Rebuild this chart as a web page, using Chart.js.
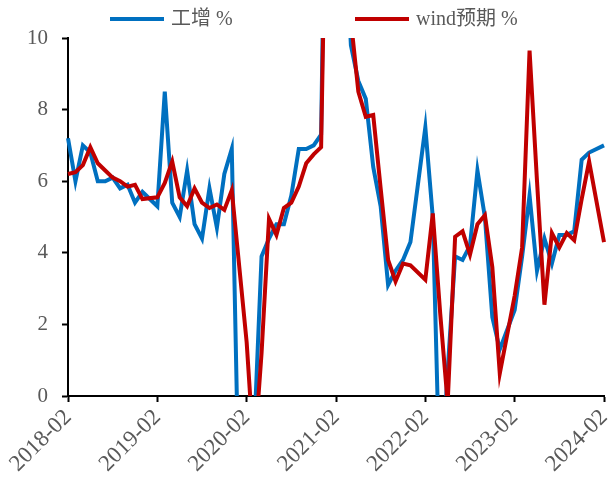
<!DOCTYPE html>
<html>
<head>
<meta charset="utf-8">
<script src="https://cdn.jsdelivr.net/npm/chart.js@4.4.0/dist/chart.umd.min.js"></script>
<style>
    html, body { margin: 0; padding: 0; background: #fff; }
    #wrap { width: 611px; height: 483px; position: relative; }
</style>
</head>
<body>
<div id="wrap"><canvas id="lineChart"></canvas></div>
<script>
// 数据 (1月为空, 1-2月合并记在2月)
var seriesNames = ['工增 %', 'wind预期 %'];

var ipActual = [
    7.2, 6.0, 7.0, 6.8, 6.0, 6.0, 6.1, 5.8, 5.9, 5.4, 5.7,               // 2018-02 ~ 2018-12
    null, 5.3, 8.5, 5.4, 5.0, 6.3, 4.8, 4.4, 5.8, 4.7, 6.2, 6.9,         // 2019
    null, -13.5, -1.1, 3.9, 4.4, 4.8, 4.8, 5.6, 6.9, 6.9, 7.0, 7.3,      // 2020
    null, 35.1, 14.1, 9.8, 8.8, 8.3, 6.4, 5.3, 3.1, 3.5, 3.8, 4.3,       // 2021
    null, 7.5, 5.0, -2.9, 0.7, 3.9, 3.8, 4.2, 6.3, 5.0, 2.2, 1.3,        // 2022
    null, 2.4, 3.9, 5.6, 3.5, 4.4, 3.7, 4.5, 4.5, 4.6, 6.6, 6.8,         // 2023
    null, 7.0                                                            // 2024
];

var windForecast = [
    6.2, 6.25, 6.45, 6.95, 6.5, 6.3, 6.1, 6.0, 5.85, 5.9, 5.5,
    null, 5.55, 5.95, 6.55, 5.55, 5.3, 5.8, 5.4, 5.25, 5.35, 5.2, 5.75,
    null, 1.5, -1.7, 1.2, 4.95, 4.5, 5.25, 5.4, 5.85, 6.5, 6.75, 6.95,
    null, 30.0, 17.5, 10.5, 8.5, 7.8, 7.85, 5.8, 3.8, 3.2, 3.7, 3.65,
    null, 3.25, 5.1, 2.3, -0.2, 4.45, 4.6, 3.95, 4.8, 5.05, 3.6, 0.63,
    null, 2.8, 4.15, 9.65, 6.0, 2.55, 4.55, 4.15, 4.55, 4.35, 5.5, 6.55,
    null, 4.3
];

var yTicks = [0, 2, 4, 6, 8, 10];

// 2018-02 ~ 2024-02 月份
var months = [];
for (var y = 2018; y <= 2024; y++) {
    for (var m = 1; m <= 12; m++) {
        if (y === 2018 && m < 2) continue;
        if (y === 2024 && m > 2) break;
        months.push(y + '-' + (m < 10 ? '0' + m : m));
    }
}

var BLUE = '#0070C0';
var RED = '#C00000';
var GREY = '#595959';
var SERIF = "'Liberation Serif', 'Times New Roman', serif";

// 上方图例
var topLegend = {
    id: 'topLegend',
    afterDraw: function (chart) {
        var ctx = chart.ctx;
        var items = [
            { text: seriesNames[0], color: BLUE, x: 110 },
            { text: seriesNames[1], color: RED, x: 355 }
        ];
        ctx.save();
        ctx.font = "20px " + SERIF + ", 'Noto Sans CJK SC'";
        ctx.textBaseline = 'middle';
        items.forEach(function (it) {
            ctx.strokeStyle = it.color;
            ctx.lineWidth = 4;
            ctx.beginPath();
            ctx.moveTo(it.x, 19);
            ctx.lineTo(it.x + 54, 19);
            ctx.stroke();
            ctx.fillStyle = GREY;
            ctx.fillText(it.text, it.x + 61, 20);
        });
        ctx.restore();
    }
};

var ctx1 = document.getElementById('lineChart').getContext('2d');
new Chart(ctx1, {
    type: 'line',
    data: {
        labels: months,
        datasets: [
            {
                label: seriesNames[0],
                data: ipActual,
                borderColor: BLUE,
                backgroundColor: BLUE,
                borderWidth: 4,
                pointRadius: 0,
                tension: 0,
                spanGaps: true,
                order: 1
            },
            {
                label: seriesNames[1],
                data: windForecast,
                borderColor: RED,
                backgroundColor: RED,
                borderWidth: 4,
                pointRadius: 0,
                tension: 0,
                spanGaps: true,
                order: 0
            }
        ]
    },
    options: {
        responsive: true,
        maintainAspectRatio: false,
        animation: false,
        layout: { padding: { top: 38, right: 7, left: 0, bottom: 0 } },
        plugins: {
            legend: { display: false },
            tooltip: { enabled: false }
        },
        scales: {
            x: {
                type: 'category',
                offset: false,
                grid: {
                    drawOnChartArea: false,
                    tickLength: 6,
                    tickWidth: 2,
                    tickColor: function (c) { return c.index % 12 === 0 ? '#000' : 'rgba(0,0,0,0)'; }
                },
                border: { color: '#000', width: 2 },
                ticks: {
                    autoSkip: false,
                    minRotation: 45,
                    maxRotation: 45,
                    padding: 2,
                    color: GREY,
                    font: { family: SERIF, size: 23 },
                    callback: function (v, i) { return i % 12 === 0 ? months[i] : ''; }
                },
                afterFit: function (s) {
                    s.height = 87;
                    s.paddingLeft = 0;
                    s.paddingRight = 0;
                }
            },
            y: {
                min: 0,
                max: 10,
                afterBuildTicks: function (s) { s.ticks = yTicks.map(function (v) { return { value: v }; }); },
                grid: { drawOnChartArea: false, tickLength: 6, tickWidth: 2, tickColor: '#000' },
                border: { color: '#000', width: 2 },
                ticks: {
                    padding: 14,
                    color: GREY,
                    font: { family: SERIF, size: 21 }
                },
                afterFit: function (s) {
                    s.width = 68;
                    s.paddingTop = 0;
                    s.paddingBottom = 0;
                }
            }
        }
    },
    plugins: [topLegend]
});
</script>
</body>
</html>
